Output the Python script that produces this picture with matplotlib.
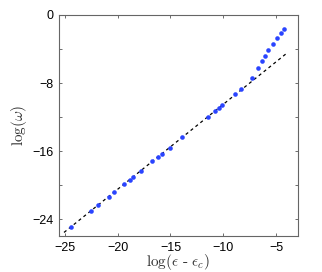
import matplotlib
matplotlib.use("Agg")
import matplotlib.pyplot as plt
import numpy as np

plt.rcParams['mathtext.fontset'] = 'cm'

log_eps = [-24.43, -22.5, -21.9, -20.86, -20.33, -19.38, -18.84, -18.53, -17.83,
           -16.72, -16.16, -15.8, -15.08, -13.9, -11.42, -10.75, -10.37, -10.09,
           -8.86, -8.32, -7.27, -6.74, -6.36, -6.07, -5.73, -5.31, -4.93, -4.59, -4.27]
log_omega = [-24.9, -23.0, -22.35, -21.4, -20.86, -19.9, -19.4, -19.1, -18.35,
             -17.2, -16.67, -16.35, -15.6, -14.4, -11.96, -11.3, -10.9, -10.63,
             -9.33, -8.75, -7.45, -6.24, -5.45, -4.86, -4.12, -3.37, -2.75, -2.12, -1.65]
fit_x = [-25.07, -3.93]
fit_slope = 1.0
fit_intercept = -0.5

fig = plt.figure(figsize=(3.22, 2.72), dpi=100)
ax = fig.add_axes([0.183, 0.132, 0.742, 0.813])

fx = np.array(fit_x)
ax.plot(fx, fit_slope * fx + fit_intercept, color='black', linestyle=(0, (2.5, 2.5)), linewidth=0.9)
ax.plot(log_eps, log_omega, 'o', color='#2a44ff', markersize=3.3, markeredgewidth=0)

ax.set_xlim(-25.55, -2.95)
ax.set_ylim(-26, 0)
ax.set_xticks([-25, -20, -15, -10, -5])
ax.set_yticks([0, -4, -8, -12, -16, -20, -24])
ax.set_yticklabels(['0', '', '\u22128', '', '\u221216', '', '\u221224'])
ax.set_xticklabels(['\u221225', '\u221220', '\u221215', '\u221210', '\u22125'])
ax.tick_params(direction='in', length=2.5, width=0.6, color='#555555',
               top=True, right=True, labelsize=9, pad=4)
for lbl in ax.get_xticklabels() + ax.get_yticklabels():
    lbl.set_fontfamily('Liberation Sans')
for s in ax.spines.values():
    s.set_color('#666666')
    s.set_linewidth(0.8)
ax.set_xlabel(r'$\log(\epsilon\ \text{-}\ \epsilon_c)$', fontsize=11, color='#333333', labelpad=-1)
ax.set_ylabel(r'$\log(\omega)$', fontsize=11, color='#333333', labelpad=2)

fig.savefig('out.png', dpi=100)
